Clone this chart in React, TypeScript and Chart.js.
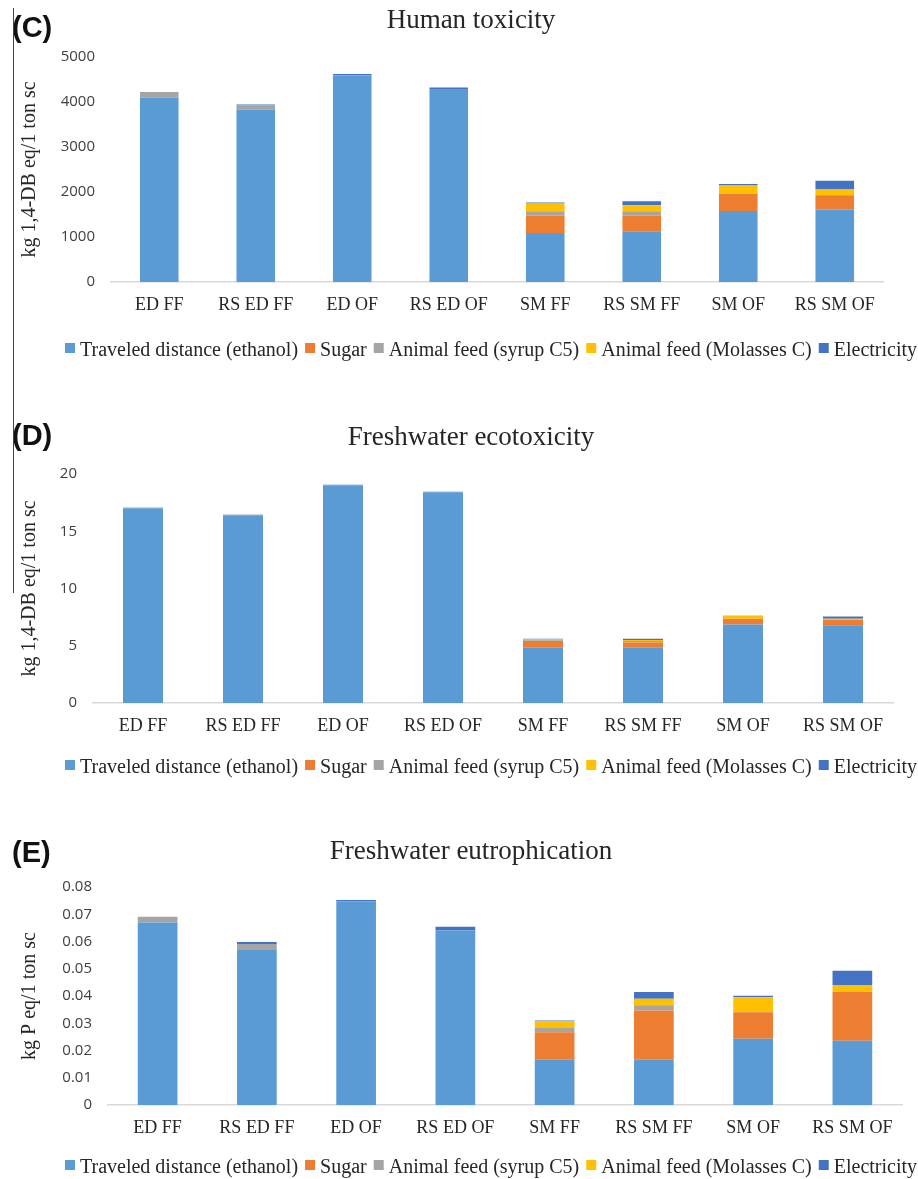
import React, { useEffect, useRef } from "react";
import { Chart, registerables } from "chart.js";

Chart.register(...registerables);

// ---------- data ----------
const categories = ["ED FF", "RS ED FF", "ED OF", "RS ED OF", "SM FF", "RS SM FF", "SM OF", "RS SM OF"];
const seriesLabels = [
  "Traveled distance (ethanol)",
  "Sugar",
  "Animal feed (syrup C5)",
  "Animal feed (Molasses C)",
  "Electricity",
];
const seriesColors = ["#5B9BD5", "#ED7D31", "#A5A5A5", "#FFC000", "#4472C4"];

// (C) Human toxicity
const htTravel = [4100, 3830, 4590, 4290, 1090, 1130, 1580, 1610];
const htSugar = [0, 0, 0, 0, 390, 340, 380, 320];
const htSyrup = [120, 90, 0, 0, 95, 100, 0, 0];
const htMolasses = [0, 0, 0, 0, 170, 135, 185, 135];
const htElectricity = [0, 25, 30, 35, 20, 90, 35, 185];

// (D) Freshwater ecotoxicity
const feTravel = [17.0, 16.4, 19.02, 18.4, 4.83, 4.83, 6.85, 6.8];
const feSugar = [0, 0, 0, 0, 0.58, 0.46, 0.5, 0.46];
const feSyrup = [0.08, 0.07, 0, 0, 0.06, 0.12, 0, 0];
const feMolasses = [0, 0, 0, 0, 0.13, 0.1, 0.25, 0.1];
const feElectricity = [0, 0, 0.05, 0.05, 0.02, 0.1, 0.02, 0.2];

// (E) Freshwater eutrophication
const euTravel = [0.067, 0.0572, 0.0747, 0.0641, 0.0166, 0.0166, 0.0243, 0.0236];
const euSugar = [0, 0, 0, 0, 0.0101, 0.0181, 0.0097, 0.018];
const euSyrup = [0.0021, 0.0019, 0, 0, 0.0016, 0.0019, 0, 0];
const euMolasses = [0, 0, 0, 0, 0.0024, 0.0024, 0.0055, 0.0024];
const euElectricity = [0, 0.0007, 0.0005, 0.0013, 0.0003, 0.0025, 0.0006, 0.0053];

const SERIF = '"Liberation Serif", "Times New Roman", serif';
const SANS = '"Open Sans", "Liberation Sans", sans-serif';
const BOLD_SANS = '"Liberation Sans", Arial, sans-serif';

type PanelCfg = {
  panel: string;
  title: string;
  yTitle: string;
  top: number;
  height: number;
  padTop: number;
  padBottom: number;
  padRight: number;
  axisW: number;
  yMax: number;
  yStep: number;
  fmt: (v: number) => string;
  titleBaseline: number;
  panelBaseline: number;
  legendBaseline: number;
  series: number[][];
};

const panels: PanelCfg[] = [
  {
    panel: "(C)",
    title: "Human toxicity",
    yTitle: "kg 1,4-DB eq/1 ton sc",
    top: 0,
    height: 375,
    padTop: 57,
    padBottom: 53,
    padRight: 35,
    axisW: 111,
    yMax: 5000,
    yStep: 1000,
    fmt: (v) => String(Math.round(v)),
    titleBaseline: 28,
    panelBaseline: 37,
    legendBaseline: 356,
    series: [htTravel, htSugar, htSyrup, htMolasses, htElectricity],
  },
  {
    panel: "(D)",
    title: "Freshwater ecotoxicity",
    yTitle: "kg 1,4-DB eq/1 ton sc",
    top: 380,
    height: 420,
    padTop: 94,
    padBottom: 57,
    padRight: 25,
    axisW: 93,
    yMax: 20,
    yStep: 5,
    fmt: (v) => String(Math.round(v)),
    titleBaseline: 65,
    panelBaseline: 65,
    legendBaseline: 393,
    series: [feTravel, feSugar, feSyrup, feMolasses, feElectricity],
  },
  {
    panel: "(E)",
    title: "Freshwater eutrophication",
    yTitle: "kg P eq/1 ton sc",
    top: 800,
    height: 379,
    padTop: 87,
    padBottom: 34,
    padRight: 16,
    axisW: 108,
    yMax: 0.08,
    yStep: 0.01,
    fmt: (v) => (Math.abs(v) < 1e-9 ? "0" : v.toFixed(2)),
    titleBaseline: 59,
    panelBaseline: 62,
    legendBaseline: 373,
    series: [euTravel, euSugar, euSyrup, euMolasses, euElectricity],
  },
];

function makeDecor(cfg: PanelCfg) {
  return {
    id: "decor",
    afterDraw(chart: any) {
      const ctx = chart.ctx as CanvasRenderingContext2D;
      const area = chart.chartArea;
      ctx.save();
      // panel label
      ctx.fillStyle = "#111";
      ctx.font = `bold 29px ${BOLD_SANS}`;
      ctx.textAlign = "left";
      ctx.textBaseline = "alphabetic";
      ctx.fillText(cfg.panel, 12, cfg.panelBaseline);
      // title
      ctx.fillStyle = "#262626";
      ctx.font = `27px ${SERIF}`;
      ctx.textAlign = "center";
      ctx.fillText(cfg.title, 471, cfg.titleBaseline);
      // y-axis title
      ctx.save();
      ctx.translate(30, (area.top + area.bottom) / 2);
      ctx.rotate(-Math.PI / 2);
      ctx.font = `20px ${SERIF}`;
      ctx.textAlign = "center";
      ctx.textBaseline = "middle";
      ctx.fillText(cfg.yTitle, 0, 0);
      ctx.restore();
      // legend
      ctx.font = `20px ${SERIF}`;
      ctx.textAlign = "left";
      ctx.textBaseline = "alphabetic";
      let x = 65;
      chart.data.datasets.forEach((ds: any) => {
        ctx.fillStyle = ds.backgroundColor;
        ctx.fillRect(x, cfg.legendBaseline - 13, 10, 10);
        x += 15;
        ctx.fillStyle = "#262626";
        ctx.fillText(ds.label, x, cfg.legendBaseline);
        x += ctx.measureText(ds.label).width + 7;
      });
      ctx.restore();
    },
  };
}

function Panel({ cfg }: { cfg: PanelCfg }) {
  const ref = useRef<HTMLCanvasElement | null>(null);
  useEffect(() => {
    if (!ref.current) return;
    const chart = new Chart(ref.current, {
      type: "bar",
      data: {
        labels: categories,
        datasets: cfg.series.map((vals, i) => ({
          label: seriesLabels[i],
          data: vals,
          backgroundColor: seriesColors[i],
          borderWidth: 0,
          barPercentage: 0.4,
          categoryPercentage: 1.0,
        })),
      },
      options: {
        responsive: false,
        animation: false,
        devicePixelRatio: 1,
        layout: {
          padding: { top: cfg.padTop, bottom: cfg.padBottom, left: 0, right: cfg.padRight },
        },
        plugins: {
          legend: { display: false },
          title: { display: false },
          tooltip: { enabled: false },
        },
        scales: {
          x: {
            stacked: true,
            grid: { display: false, drawTicks: false },
            border: { display: true, color: "#d9d9d9", width: 1.5 },
            ticks: {
              font: { family: SERIF, size: 18 },
              color: "#262626",
              padding: 12,
              maxRotation: 0,
              autoSkip: false,
            },
            afterFit: (s: any) => {
              s.height = 40;
            },
          },
          y: {
            stacked: true,
            min: 0,
            max: cfg.yMax,
            grid: { display: false, drawTicks: false },
            border: { display: false },
            ticks: {
              stepSize: cfg.yStep,
              font: { family: SANS, size: 15 },
              color: "#404040",
              padding: 16,
              callback: (v: any) => cfg.fmt(Number(v)),
            },
            afterFit: (s: any) => {
              s.width = cfg.axisW;
            },
          },
        },
      },
      plugins: [makeDecor(cfg)],
    });
    return () => chart.destroy();
  }, [cfg]);
  return (
    <canvas
      ref={ref}
      width={918}
      height={cfg.height}
      style={{ position: "absolute", left: 0, top: cfg.top, width: 918, height: cfg.height }}
    />
  );
}

export default function App() {
  return (
    <div
      style={{
        position: "absolute",
        left: 0,
        top: 0,
        width: 918,
        height: 1179,
        background: "#fff",
        overflow: "hidden",
      }}
    >
      {panels.map((p) => (
        <Panel key={p.panel} cfg={p} />
      ))}
      <div
        style={{
          position: "absolute",
          left: 13,
          top: 8,
          width: 1,
          height: 585,
          background: "#444",
        }}
      />
    </div>
  );
}
